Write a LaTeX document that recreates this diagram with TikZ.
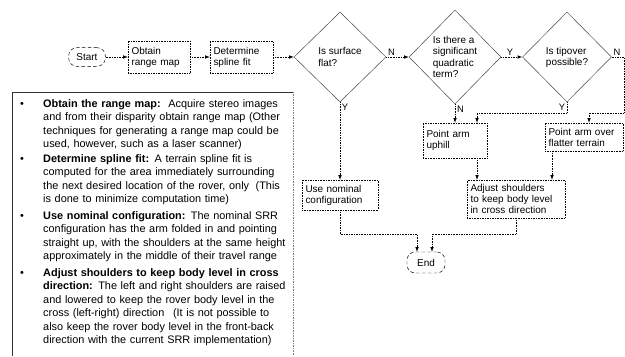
\documentclass[tikz,border=0pt]{standalone}
\usepackage{fontspec}
\setmainfont{Liberation Sans}
\usetikzlibrary{shapes.geometric}

\begin{document}
\begin{tikzpicture}[>=latex, x=0.03cm, y=-0.03cm,
	every node/.style={font=\fontsize{8.5}{9.5}\selectfont},
	term/.style={draw, densely dashed, rounded corners=7pt, minimum width=1.1cm, minimum height=0.56cm, inner sep=1pt},
	proc/.style 2 args={draw, densely dotted, minimum width=#1, text width=#1-6pt, minimum height=#2, inner xsep=3pt, inner ysep=1pt, align=left},
	dec/.style={draw, black!75, text=black, diamond, inner sep=0pt, minimum width=2.76cm, minimum height=2.7cm, align=left},
	flow/.style={->, densely dotted},
	lbl/.style={inner sep=1.5pt, font=\fontsize{8}{9}\selectfont},
	note/.style={anchor=base west, text width=8.2cm, inner sep=0pt, align=left, font=\fontsize{9.3}{11.6}\selectfont},
	dot/.style={anchor=base, inner sep=0pt, font=\fontsize{9.3}{11.6}\selectfont}]
			\useasboundingbox (0,0) rectangle (625,356);
			%%%	Flowchart
			\node [term] (start) at (87,57) {Start};
			\node [proc={1.86cm}{0.96cm}] (obtain) at (159,57) {Obtain\\range map};
			\node [proc={1.89cm}{0.96cm}] (determine) at (241.5,57) {Determine\\spline fit};
			\node [dec] (d1) at (340,57) {Is surface\\flat?};
			\node [dec, minimum width=2.76cm, minimum height=2.82cm] (d2) at (455,57) {Is there a\\significant\\quadratic\\term?};
			\node [dec, minimum width=2.67cm] (d3) at (567,57) {Is tipover\\possible?};
			\node [proc={2.28cm}{0.9cm}] (nominal) at (340,195) {Use nominal\\configuration};
			\node [proc={1.92cm}{1.05cm}] (uphill) at (455,140.5) {Point arm\\uphill};
			\node [proc={2.34cm}{0.84cm}] (flatter) at (584,137) {Point arm over\\flatter terrain};
			\node [proc={2.94cm}{1.14cm}] (adjust) at (516,199) {Adjust shoulders\\to keep body level\\in cross direction};
			\node [term, minimum width=1.14cm, minimum height=0.63cm] (end) at (426,262.5) {End};
			
			\coordinate (j1) at (477,113);
			\coordinate (e1) at (624,113);
			\coordinate (e2) at (589,113);
			\coordinate (j3) at (552,170);
			\coordinate (m1) at (417,234);
			\coordinate (m2) at (432,234);
			
			\draw[flow] (start) -- (obtain);
			\draw[flow] (obtain) -- (determine);
			\draw[flow] (determine) -- (d1);
			\draw[flow] (d1.east) node[lbl, above right] {N} -- (d2.west);
			\draw[flow] (d2.east) node[lbl, above right, xshift=3pt] {Y} -- (d3.west);
			\draw[flow] (d3.east) node[lbl, above right] {N} -| (e1) -- (e2) -- (e2 |- flatter.north);
			\draw[flow] (d1.south) node[lbl, below right] {Y} -- (nominal.north);
			\draw[flow] (d2.south) node[lbl, below right] {N} -- (uphill.north);
			\draw[flow] (d3.south) node[lbl, below left] {Y} |- (j1) -- (j1 |- uphill.north);
			\draw[flow] (j1 |- uphill.south) -- (j1 |- adjust.north);
			\draw[flow] (j3 |- flatter.south) -- (j3 |- adjust.north);
			\draw[flow] (nominal.south) |- (m1) -- (m1 |- end.north);
			\draw[flow] (adjust.south) |- (m2) -- (m2 |- end.north);
			
			%%%	Notes
			\draw[black!80] (12,356) -- (12,92) -- (293,92);
			\draw[black!50, densely dotted] (293,92) -- (293,356);
			\node [note] (t1) at (43,107) {\textbf{Obtain the range map:}\hspace{0.7em}Acquire stereo images\\and from their disparity obtain range map (Other\\techniques for generating a range map could be\\used, however, such as a laser scanner)};
			\node [note] (t2) at (43,162) {\textbf{Determine spline fit:}\hspace{0.5em}A terrain spline fit is\\computed for the area immediately surrounding\\the next desired location of the rover, only\hspace{0.6em}(This\\is done to minimize computation time)};
			\node [note] (t3) at (43,219) {\textbf{Use nominal configuration:}\hspace{0.5em}The nominal SRR\\configuration has the arm folded in and pointing\\straight up, with the shoulders at the same height\\approximately in the middle of their travel range};
			\node [note] (t4) at (43,276) {\textbf{Adjust shoulders to keep body level in cross}\\\textbf{direction:}\hspace{0.5em}The left and right shoulders are raised\\and lowered to keep the rover body level in the\\cross (left-right) direction\hspace{0.8em}(It is not possible to\\also keep the rover body level in the front-back\\direction with the current SRR implementation)};
			\node [dot] (b1) at (22,107) {\textbullet};
			\node [dot] (b2) at (22,162) {\textbullet};
			\node [dot] (b3) at (22,219) {\textbullet};
			\node [dot] (b4) at (22,276) {\textbullet};
		\end{tikzpicture}
\end{document}
